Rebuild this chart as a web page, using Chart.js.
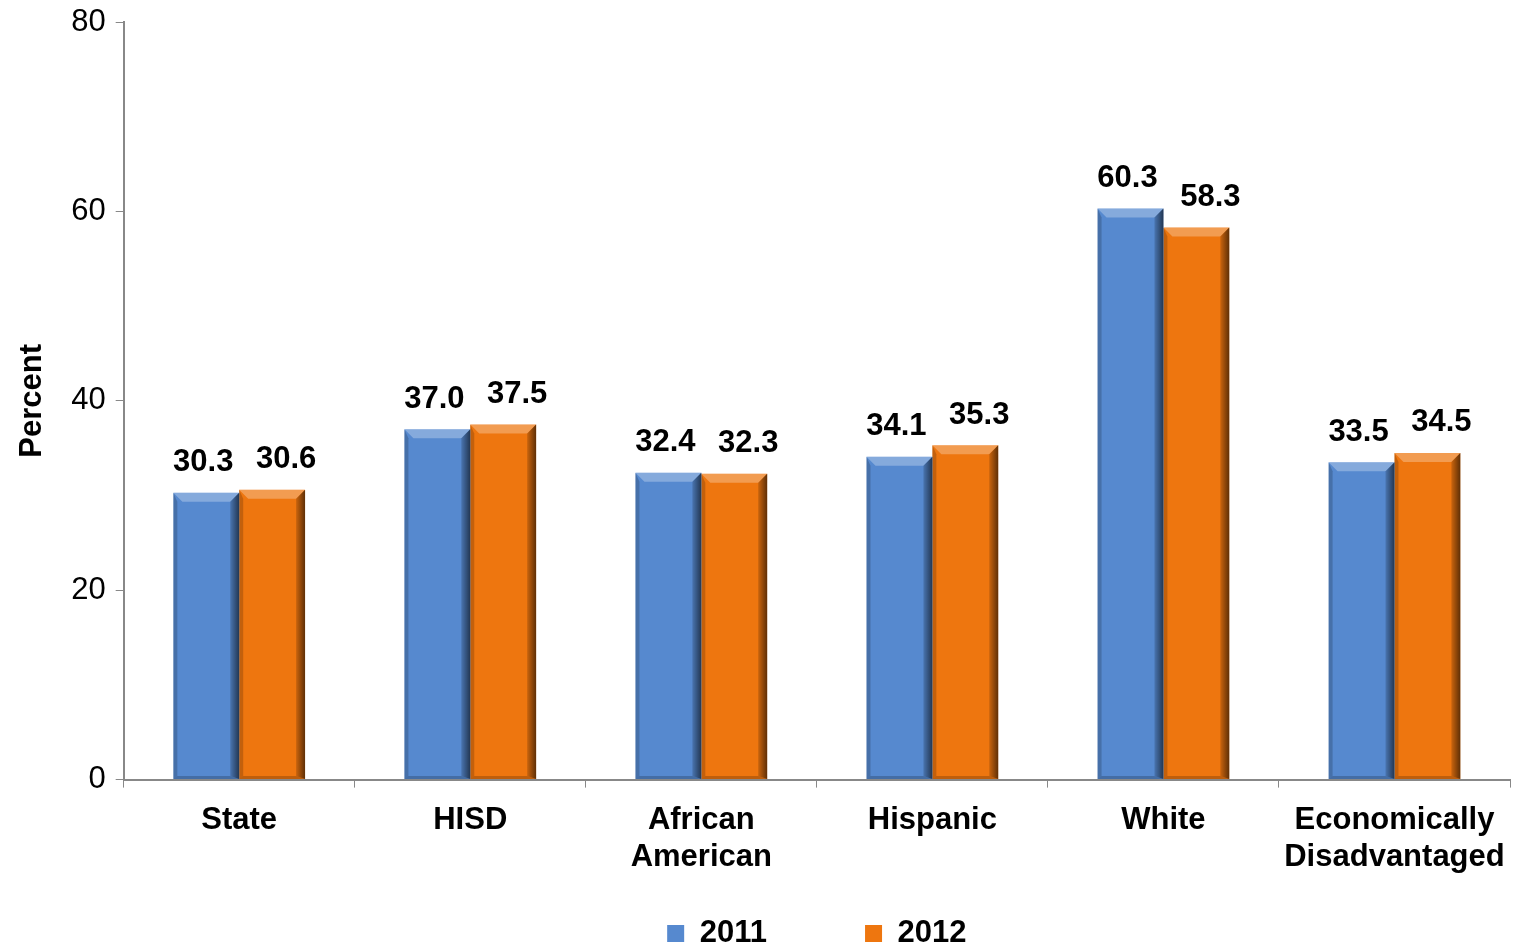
<!DOCTYPE html>
<html>
<head>
<meta charset="utf-8">
<script src="https://cdn.jsdelivr.net/npm/chart.js@4"></script>
<style>
  body { margin: 0; background: #fff; }
  #wrap { width: 1526px; height: 946px; }
</style>
</head>
<body>
<div id="wrap"><canvas id="chart" width="1526" height="946"></canvas></div>
<script>
const categories = ["State", "HISD", ["African", "American"], "Hispanic", "White", ["Economically", "Disadvantaged"]];
const values2011 = [30.3, 37.0, 32.4, 34.1, 60.3, 33.5];
const values2012 = [30.6, 37.5, 32.3, 35.3, 58.3, 34.5];
const yTicks = [0, 20, 40, 60, 80];

const FONT = "'Liberation Sans', Arial, sans-serif";

// bevel look for the bars, drawn on top of each bar from its own geometry
const bevelPlugin = {
    id: "bevel",
    afterDatasetsDraw(chart) {
        const ctx = chart.ctx;
        chart.data.datasets.forEach((ds, i) => {
            chart.getDatasetMeta(i).data.forEach(bar => {
                const l = bar.x - bar.width / 2, r = bar.x + bar.width / 2;
                const t = bar.y, b = bar.base, e = 9;
                ctx.save();
                // top face
                ctx.fillStyle = "rgba(255,255,255,0.28)";
                ctx.beginPath();
                ctx.moveTo(l, t); ctx.lineTo(r, t); ctx.lineTo(r - e, t + e); ctx.lineTo(l + e, t + e); ctx.closePath();
                ctx.fill();
                // right face
                const g = ctx.createLinearGradient(r - e, 0, r, 0);
                g.addColorStop(0, "rgba(0,0,0,0.15)");
                g.addColorStop(1, "rgba(0,0,0,0.6)");
                ctx.fillStyle = g;
                ctx.beginPath();
                ctx.moveTo(r, t); ctx.lineTo(r, b); ctx.lineTo(r - e, b - 3); ctx.lineTo(r - e, t + e); ctx.closePath();
                ctx.fill();
                // left face
                ctx.fillStyle = "rgba(0,0,0,0.18)";
                ctx.beginPath();
                ctx.moveTo(l, t); ctx.lineTo(l + 4, t + e); ctx.lineTo(l + 4, b - 3); ctx.lineTo(l, b); ctx.closePath();
                ctx.fill();
                // bottom face
                ctx.fillStyle = "rgba(0,0,0,0.2)";
                ctx.beginPath();
                ctx.moveTo(l, b); ctx.lineTo(r, b); ctx.lineTo(r - e, b - 3); ctx.lineTo(l + 4, b - 3); ctx.closePath();
                ctx.fill();
                ctx.restore();
            });
        });
    }
};

const valueLabels = {
    id: "valueLabels",
    afterDatasetsDraw(chart) {
        const ctx = chart.ctx;
        ctx.save();
        ctx.font = "bold 31px " + FONT;
        ctx.fillStyle = "#000";
        ctx.textAlign = "center";
        ctx.textBaseline = "middle";
        chart.data.datasets.forEach((ds, i) => {
            const shift = i === 0 ? -3 : 14;
            chart.getDatasetMeta(i).data.forEach((bar, j) => {
                ctx.fillText(ds.data[j].toFixed(1), bar.x + shift, bar.y - 30);
            });
        });
        ctx.restore();
    }
};

new Chart(document.getElementById("chart"), {
    type: "bar",
    data: {
        labels: categories,
        datasets: [
            { label: "2011", data: values2011, backgroundColor: "#5689CF", borderWidth: 0 },
            { label: "2012", data: values2012, backgroundColor: "#EE760F", borderWidth: 0 }
        ]
    },
    options: {
        responsive: false,
        animation: false,
        layout: { padding: { top: 22, right: 16, left: 10, bottom: -13 } },
        datasets: { bar: { categoryPercentage: 0.57, barPercentage: 1 } },
        plugins: {
            legend: {
                position: "bottom",
                fullSize: false,
                labels: {
                    font: { family: FONT, size: 31, weight: "bold" },
                    color: "#000",
                    boxWidth: 17,
                    boxHeight: 17,
                    padding: 12,
                    // wide gap between the two entries
                    generateLabels: chart => Chart.defaults.plugins.legend.labels.generateLabels(chart)
                        .map((item, i) => i === 0 ? { ...item, text: item.text + "          " } : item)
                }
            },
            tooltip: { enabled: false }
        },
        scales: {
            x: {
                grid: { offset: true, drawOnChartArea: false, tickLength: 8, color: "#888" },
                border: { color: "#888", width: 2 },
                ticks: { font: { family: FONT, size: 31, weight: "bold" }, color: "#000", padding: 14 },
                afterFit: axis => { axis.height += 16; }
            },
            y: {
                min: 0,
                max: 80,
                afterBuildTicks: axis => { axis.ticks = yTicks.map(v => ({ value: v })); },
                afterFit: axis => { axis.paddingTop = 0; },
                grid: { drawOnChartArea: false, tickLength: 8, color: "#888" },
                border: { color: "#888", width: 2 },
                ticks: { font: { family: FONT, size: 31 }, color: "#000", padding: 10 },
                title: { display: true, text: "Percent", font: { family: FONT, size: 31, weight: "bold" }, color: "#000", padding: { bottom: 10 } }
            }
        }
    },
    plugins: [bevelPlugin, valueLabels]
});
</script>
</body>
</html>
